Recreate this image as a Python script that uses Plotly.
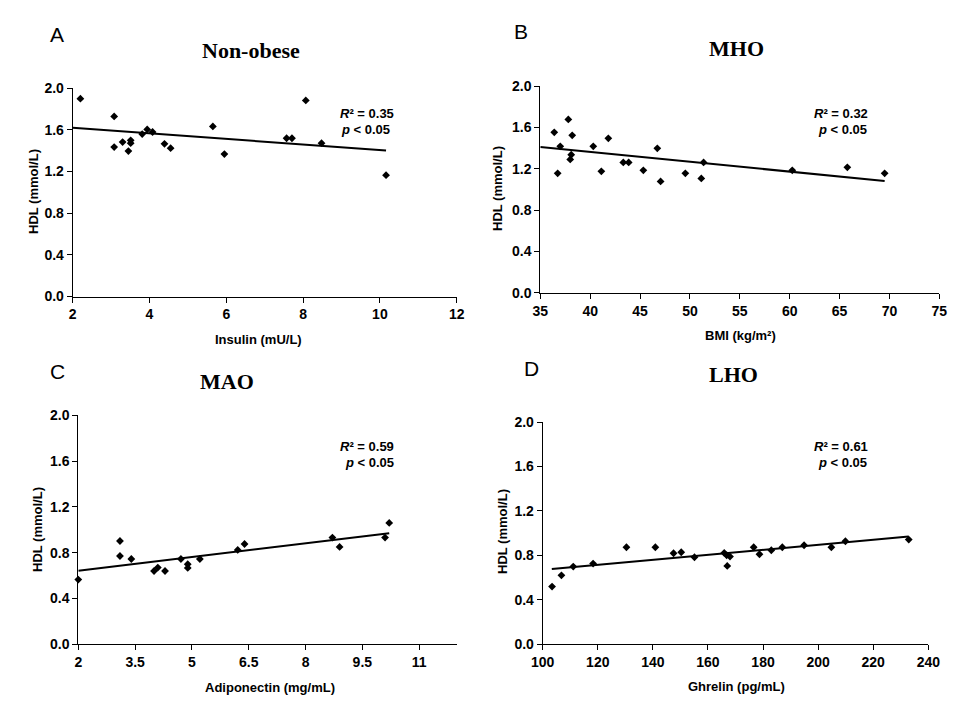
import plotly.graph_objects as go

# ---------------- data ----------------
# Panel A: Non-obese, Insulin (mU/L) vs HDL (mmol/L)
a_insulin = [2.2, 3.08, 3.08, 3.3, 3.45, 3.51, 3.51, 3.81, 3.94, 4.08, 4.39, 4.55,
             5.65, 5.95, 7.57, 7.71, 8.07, 8.48, 10.16]
a_hdl = [1.90, 1.73, 1.435, 1.483, 1.397, 1.50, 1.473, 1.56, 1.605, 1.58, 1.467, 1.425,
         1.634, 1.368, 1.52, 1.52, 1.884, 1.473, 1.165]
a_trend_x = [2.0, 10.16]
a_trend_y = [1.621, 1.403]

# Panel B: MHO, BMI (kg/m²) vs HDL
b_bmi = [36.40, 36.74, 37.0, 37.81, 38.0, 38.1, 38.2, 40.31, 41.12, 41.82, 43.32, 43.86,
         45.33, 46.73, 47.06, 49.54, 51.14, 51.37, 60.26, 65.78, 69.52]
b_hdl = [1.552, 1.155, 1.416, 1.677, 1.29, 1.335, 1.523, 1.416, 1.174, 1.494, 1.261, 1.261,
         1.184, 1.397, 1.077, 1.155, 1.106, 1.261, 1.184, 1.213, 1.155]
b_trend_x = [35.0, 69.52]
b_trend_y = [1.41, 1.081]

# Panel C: MAO, Adiponectin (mg/mL) vs HDL
c_adipo = [2.0, 3.10, 3.10, 3.40, 4.00, 4.10, 4.29, 4.71, 4.89, 4.89, 5.21, 6.21, 6.39,
           8.71, 8.90, 10.10, 10.21]
c_hdl = [0.565, 0.902, 0.771, 0.745, 0.640, 0.670, 0.640, 0.745, 0.699, 0.667, 0.745,
         0.824, 0.876, 0.932, 0.850, 0.932, 1.06]
c_trend_x = [2.0, 10.21]
c_trend_y = [0.643, 0.969]

# Panel D: LHO, Ghrelin (pg/mL) vs HDL
d_ghrelin = [103.4, 106.8, 111.1, 118.3, 130.4, 140.9, 147.5, 150.3, 155.1, 165.9, 166.8,
             167.0, 168.0, 176.6, 178.7, 183.0, 187.0, 194.9, 204.8, 209.9, 232.9]
d_hdl = [0.519, 0.621, 0.699, 0.726, 0.873, 0.873, 0.819, 0.828, 0.783, 0.822, 0.801,
         0.705, 0.789, 0.873, 0.810, 0.846, 0.873, 0.891, 0.873, 0.927, 0.942]
d_trend_x = [103.3, 232.9]
d_trend_y = [0.678, 0.969]

panel_letters = ["A", "B", "C", "D"]
panel_titles = ["Non-obese", "MHO", "MAO", "LHO"]
x_titles = ["Insulin (mU/L)", "BMI (kg/m²)", "Adiponectin (mg/mL)", "Ghrelin (pg/mL)"]
y_title = "HDL (mmol/L)"
r2_values = ["0.35", "0.32", "0.59", "0.61"]
p_text = "< 0.05"

# ---------------- layout helpers ----------------
# The page body adds an 8px margin, so the figure is 16px smaller and
# all positions (measured in window pixels) are shifted by that margin.
PAGE_MARGIN = 8
W, H = 960 - 2 * PAGE_MARGIN, 720 - 2 * PAGE_MARGIN
def px(x):
    return (x - PAGE_MARGIN) / W
def py(y):
    return 1 - (y - PAGE_MARGIN) / H

FONT = "Arial, Liberation Sans, sans-serif"
SERIF = "Times New Roman, Liberation Serif, serif"

panels = [
    dict(x=a_insulin, y=a_hdl, tx=a_trend_x, ty=a_trend_y,
         xdom=(72.7, 456.7), ydom=(88.3, 296.5), xr=[2, 12], tick0=2, dtick=2),
    dict(x=b_bmi, y=b_hdl, tx=b_trend_x, ty=b_trend_y,
         xdom=(540.3, 939.3), ydom=(86.0, 292.7), xr=[35, 75], tick0=35, dtick=5),
    dict(x=c_adipo, y=c_hdl, tx=c_trend_x, ty=c_trend_y,
         xdom=(78.3, 457.0), ydom=(415.3, 644.3), xr=[2, 12], tick0=2, dtick=1.5),
    dict(x=d_ghrelin, y=d_hdl, tx=d_trend_x, ty=d_trend_y,
         xdom=(542.7, 928.3), ydom=(422.0, 644.3), xr=[100, 240], tick0=100, dtick=20),
]

fig = go.Figure()
layout = dict(
    width=W, height=H, margin=dict(l=0, r=0, t=0, b=0, autoexpand=False),
    paper_bgcolor="white", plot_bgcolor="white", showlegend=False,
    font=dict(family=FONT, color="black"),
)

for i, p in enumerate(panels):
    n = "" if i == 0 else str(i + 1)
    xa, ya = "x" + n, "y" + n
    fig.add_trace(go.Scatter(
        x=p["tx"], y=p["ty"], mode="lines", xaxis=xa, yaxis=ya,
        line=dict(color="black", width=2), hoverinfo="skip"))
    fig.add_trace(go.Scatter(
        x=p["x"], y=p["y"], mode="markers", xaxis=xa, yaxis=ya, cliponaxis=False,
        marker=dict(symbol="diamond", size=6, color="black")))
    axis_common = dict(showgrid=False, zeroline=False, showline=True, linecolor="black",
                       linewidth=1, ticks="outside", ticklen=5, tickcolor="black",
                       automargin=False,
                       tickfont=dict(family=FONT, size=14, color="black", weight="bold"))
    layout["xaxis" + n] = dict(
        domain=[px(p["xdom"][0]), px(p["xdom"][1])], anchor=ya, range=p["xr"],
        tickmode="linear", tick0=p["tick0"], dtick=p["dtick"], **axis_common)
    layout["yaxis" + n] = dict(
        domain=[py(p["ydom"][1]), py(p["ydom"][0])], anchor=xa, range=[0, 2],
        tickmode="linear", tick0=0, dtick=0.4, tickformat=".1f", **axis_common)

annotations = []
def add_text(text, x, y, size, family=FONT, angle=0, xanchor="center", bold=False):
    annotations.append(dict(
        text=text, x=px(x), y=py(y), xref="paper", yref="paper", showarrow=False,
        xanchor=xanchor, yanchor="middle", textangle=angle,
        font=dict(family=family, size=size, color="black",
                  weight="bold" if bold else "normal")))

letter_pos = [(57, 34), (521, 32), (57, 371), (531, 368)]
title_pos = [(251, 51), (736, 49), (227, 381), (733, 374)]
xtitle_pos = [(258, 339), (740, 335), (270, 687), (736, 686)]
ytitle_pos = [(33, 192), (498, 188), (37, 530), (502, 532)]
r2_pos = [(338, 113), (812, 113), (338, 446), (812, 446)]
p_pos = [(339, 129), (816, 129), (343, 462), (816, 462)]

for i in range(4):
    add_text(panel_letters[i], *letter_pos[i], 21)
    add_text(panel_titles[i], *title_pos[i], 22, family=SERIF, bold=True)
    add_text(x_titles[i], *xtitle_pos[i], 13, bold=True)
    add_text(y_title, *ytitle_pos[i], 13, angle=-90, bold=True)
    add_text("<i>R</i>² = " + r2_values[i], *r2_pos[i], 13, xanchor="left", bold=True)
    add_text("<i>p</i> " + p_text, *p_pos[i], 13, xanchor="left", bold=True)

layout["annotations"] = annotations
fig.update_layout(**layout)
fig.write_html("out.html")
